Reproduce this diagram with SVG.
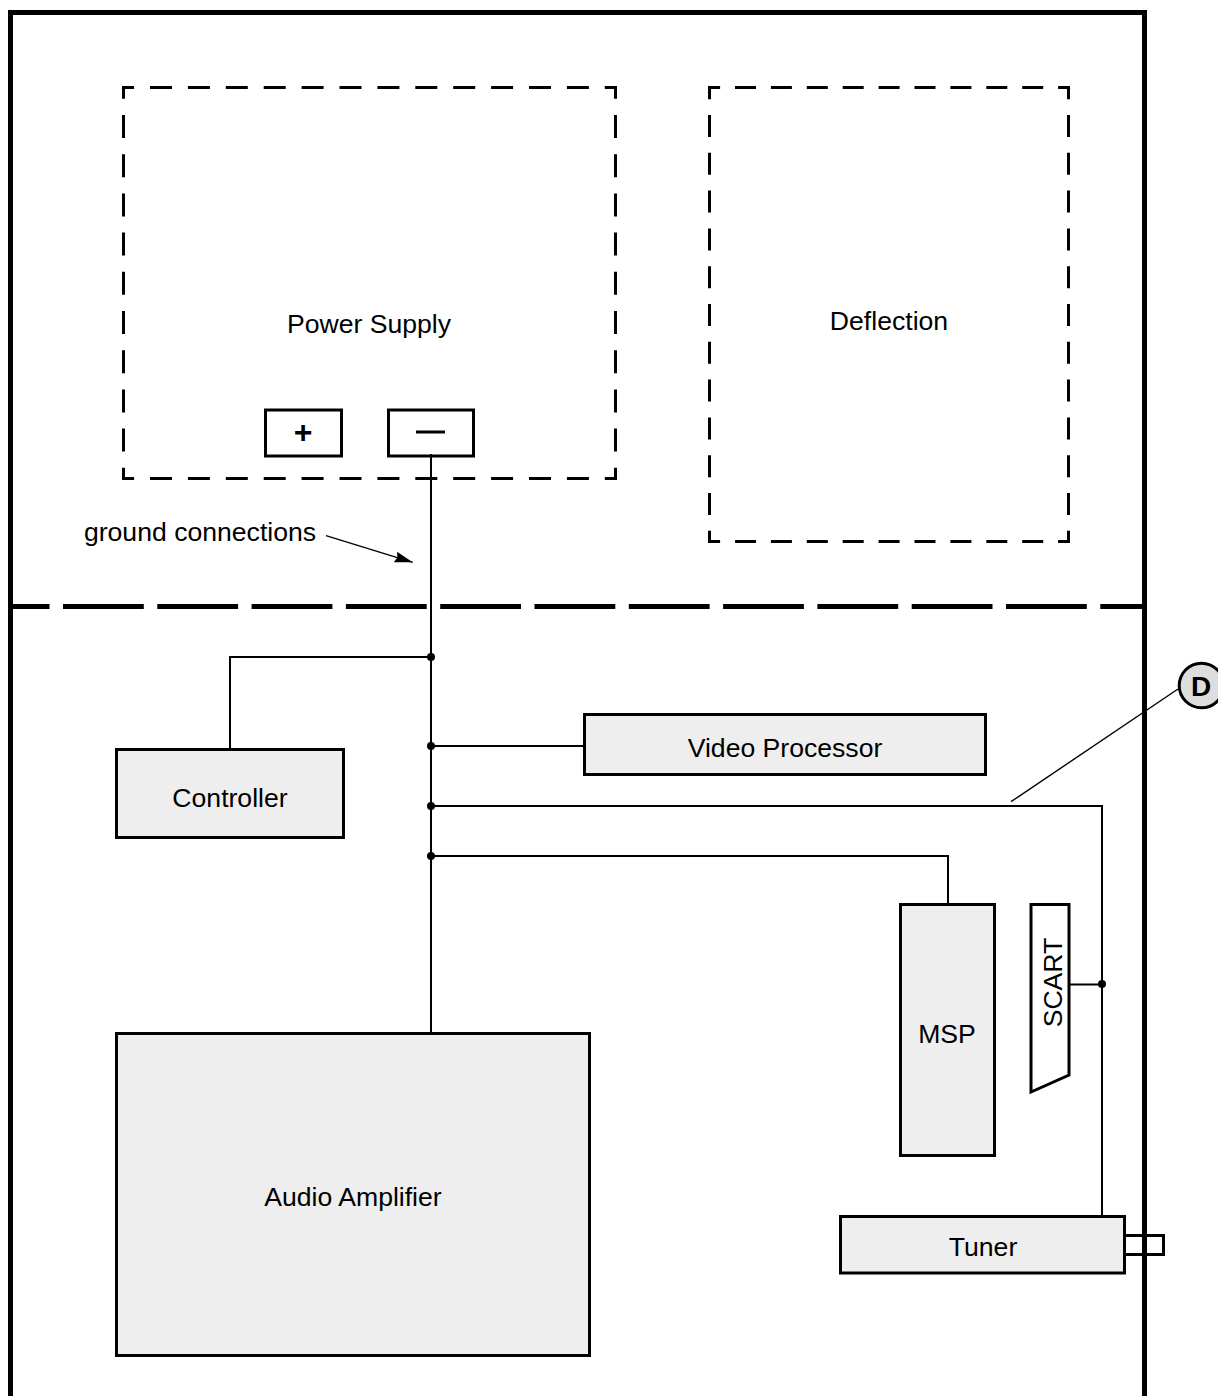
<svg xmlns="http://www.w3.org/2000/svg" width="1218" height="1396" viewBox="0 0 1218 1396">
<style>
text{font-family:"Liberation Sans",Arial,sans-serif;font-size:26.6px;fill:#000;text-anchor:middle}
.dash{fill:none;stroke:#000;stroke-width:3}
.ps-h{stroke-dasharray:22 15.9;stroke-dashoffset:9.9}
.ps-v{stroke-dasharray:23 16.2;stroke-dashoffset:10.2}
.df-h{stroke-dasharray:21 14.9;stroke-dashoffset:8.9}
.df-v{stroke-dasharray:22 15.8;stroke-dashoffset:8.8}
.box{fill:#eee;stroke:#000;stroke-width:3}
.plain{fill:#fff;stroke:#000;stroke-width:3}
.wire{fill:none;stroke:#000;stroke-width:2}
.thin{fill:none;stroke:#000;stroke-width:1.4}
.frame{fill:none;stroke:#000;stroke-width:5}
</style>
<defs>
<marker id="arrow" markerUnits="userSpaceOnUse" markerWidth="18" markerHeight="12" refX="18" refY="6" orient="auto"><path d="M0 0.5L18 6L0 11.5L2 6Z" fill="#000"/></marker>
</defs>
<rect width="1218" height="1396" fill="#fff"/>
<g id="cabinet">
<path class="frame" d="M10.5 1396V12.5H1144.5V1396"/>
<path d="M10 606.5H1144" fill="none" stroke="#000" stroke-width="5" stroke-dasharray="80.8 13.5" stroke-dashoffset="41.3"/>
</g>
<g id="power-supply">
<path class="dash ps-h" d="M122 87.5H617"/>
<path class="dash ps-h" d="M122 478.5H617"/>
<path class="dash ps-v" d="M123.5 86V480"/>
<path class="dash ps-v" d="M615.5 86V480"/>
<text x="369" y="333">Power Supply</text>
</g>
<g id="terminal-plus">
<rect class="plain" x="265.5" y="410" width="76" height="46"/>
<text x="303" y="443" font-weight="bold" style="font-size:32px">+</text>
</g>
<g id="terminal-minus">
<rect class="plain" x="388.5" y="410" width="85" height="46"/>
<path d="M416 432H445" stroke="#000" stroke-width="3"/>
</g>
<g id="deflection">
<path class="dash df-h" d="M708 87.5H1070"/>
<path class="dash df-h" d="M708 541.5H1070"/>
<path class="dash df-v" d="M709.5 86V543"/>
<path class="dash df-v" d="M1068.5 86V543"/>
<text x="889" y="330">Deflection</text>
</g>
<g id="connectors">
<path class="wire" d="M431 454V1033"/>
<path class="wire" d="M431 657H230V749"/>
<path class="wire" d="M431 746H584"/>
<path class="wire" d="M431 806H1102V1217"/>
<path class="wire" d="M431 856H948V904"/>
<path class="wire" d="M1069 984.5H1102"/>
<path class="thin" d="M1011 801.7L1178 689"/>
<circle cx="431" cy="657" r="4"/>
<circle cx="431" cy="746" r="4"/>
<circle cx="431" cy="806" r="4"/>
<circle cx="431" cy="856" r="4"/>
<circle cx="1102" cy="984" r="4"/>
</g>
<g id="ground-label">
<text x="200" y="541">ground connections</text>
<path class="thin" d="M326 535.7L412.7 562.3" marker-end="url(#arrow)"/>
</g>
<g id="controller">
<rect class="box" x="116.5" y="749.5" width="227" height="88"/>
<text x="230" y="807">Controller</text>
</g>
<g id="video-processor">
<rect class="box" x="584.5" y="714.5" width="401" height="60"/>
<text x="785" y="757">Video Processor</text>
</g>
<g id="msp">
<rect class="box" x="900.5" y="904.5" width="94" height="251"/>
<text x="947" y="1043">MSP</text>
</g>
<g id="scart">
<path class="plain" d="M1031 904.5H1069V1075L1031 1092Z"/>
<text transform="translate(1062 982.5) rotate(-90)">SCART</text>
</g>
<g id="audio-amplifier">
<rect class="box" x="116.5" y="1033.5" width="473" height="322"/>
<text x="353" y="1206">Audio Amplifier</text>
</g>
<g id="tuner">
<path class="wire" style="stroke-width:3" d="M1125 1235.5H1163.5V1254.5H1125"/>
<rect class="box" x="840.5" y="1216.5" width="284" height="56.5"/>
<text x="983" y="1256">Tuner</text>
</g>
<g id="callout-d">
<circle cx="1201.5" cy="685.5" r="22.3" fill="#ddd" stroke="#000" stroke-width="3"/>
<text x="1201" y="695.5" font-weight="bold" style="font-size:28px">D</text>
</g>
</svg>
